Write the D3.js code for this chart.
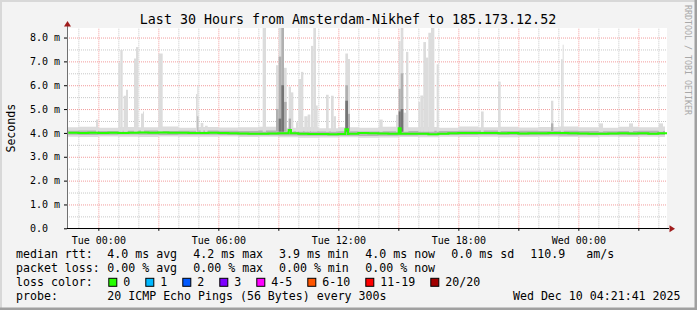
<!DOCTYPE html>
<html>
<head>
<meta charset="utf-8">
<script src="https://cdn.jsdelivr.net/npm/d3@7"></script>
<style>
  body { margin: 0; background: #f3f3f3; }
  svg text { font-family: "DejaVu Sans Mono", monospace; fill: #000; }
</style>
</head>
<body>
<div id="chart"></div>
<script>
// time window of the graph (UTC)
var timeStart = "2025-12-08T22:26:00Z",
    timeEnd   = "2025-12-10T04:26:00Z",
    dataEnd   = "2025-12-10T04:20:00Z";

var yTicks = [0, 1, 2, 3, 4, 5, 6, 7, 8];

// median rtt (ms), every 30 min starting Mon 22:30
var medianStart = "2025-12-08T22:30:00Z";
var medianRtt = [4.01,4.00,4.01,4.00,4.01,4.00,4.01,4.02,4.01,4.02,4.01,4.01,4.00,4.00,4.01,4.00,
                 3.99,3.98,3.97,3.97,3.98,3.99,3.99,3.97,3.95,3.95,3.94,3.95,3.97,4.00,3.99,3.98,
                 3.97,3.97,3.96,3.96,3.94,3.97,3.99,4.00,4.00,4.00,4.00,3.99,4.00,3.98,3.99,3.99,
                 4.00,4.00,3.99,3.98,3.97,3.97,3.98,3.99,3.98,3.99,3.97,3.99,4.00];

// background smoke (ms), hourly starting Mon 22:00
var smokeStart = "2025-12-08T22:00:00Z";
var smokeMin = [3.84,3.83,3.85,3.84,3.83,3.85,3.84,3.84,3.85,3.83,3.84,3.82,3.80,3.81,3.82,3.80,
                3.81,3.83,3.82,3.84,3.83,3.84,3.82,3.83,3.84,3.83,3.82,3.84,3.83,3.84,3.83];
var smokeLow = [3.92,3.91,3.92,3.93,3.92,3.91,3.92,3.92,3.91,3.90,3.90,3.89,3.88,3.88,3.88,3.87,
                3.88,3.89,3.90,3.91,3.91,3.92,3.91,3.90,3.90,3.89,3.90,3.91,3.90,3.91,3.91];
var smokeHigh = [4.09,4.10,4.08,4.09,4.10,4.08,4.09,4.10,4.09,4.08,4.10,4.07,4.08,4.06,4.07,4.06,
                 4.07,4.08,4.09,4.08,4.09,4.10,4.08,4.09,4.08,4.09,4.08,4.07,4.08,4.09,4.08];
var smokeMax = [4.24,4.26,4.22,4.25,4.24,4.27,4.22,4.25,4.23,4.24,4.26,4.22,4.25,4.20,4.24,4.22,
                4.26,4.24,4.25,4.22,4.27,4.24,4.26,4.23,4.25,4.27,4.24,4.22,4.26,4.24,4.27];

// smoke spikes: [from, to, max ping, mid pings, core pings, median]
var spikes = [
  ["2025-12-08T23:53", "2025-12-08T23:59", 4.56],
  ["2025-12-09T01:00", "2025-12-09T01:06", 6.95],
  ["2025-12-09T01:06", "2025-12-09T01:13", 7.48],
  ["2025-12-09T01:16", "2025-12-09T01:23", 5.56],
  ["2025-12-09T01:23", "2025-12-09T01:29", 5.81],
  ["2025-12-09T01:47", "2025-12-09T01:53", 7.12],
  ["2025-12-09T01:53", "2025-12-09T02:00", 7.60],
  ["2025-12-09T02:08", "2025-12-09T02:14", 4.81],
  ["2025-12-09T02:14", "2025-12-09T02:17", 4.90],
  ["2025-12-09T03:00", "2025-12-09T03:13", 7.33],
  ["2025-12-09T04:53", "2025-12-09T04:57", 5.63],
  ["2025-12-09T04:57", "2025-12-09T05:00", 5.98, 4.7],
  ["2025-12-09T05:07", "2025-12-09T05:15", 4.42],
  ["2025-12-09T05:20", "2025-12-09T05:28", 4.30],
  ["2025-12-09T08:13", "2025-12-09T08:23", 9.00],
  ["2025-12-09T08:53", "2025-12-09T09:01", 6.84, 5.0],
  ["2025-12-09T09:01", "2025-12-09T09:09", 9.00, 7.2, 4.6],
  ["2025-12-09T09:09", "2025-12-09T09:17", 9.00, 8.5, 6.0],
  ["2025-12-09T09:17", "2025-12-09T09:25", 6.73, 5.3],
  ["2025-12-09T09:31", "2025-12-09T09:38", 5.94, 4.6, null, 4.12],
  ["2025-12-09T09:38", "2025-12-09T09:45", 5.70],
  ["2025-12-09T09:53", "2025-12-09T09:59", 4.45],
  ["2025-12-09T10:00", "2025-12-09T10:08", 6.26],
  ["2025-12-09T10:08", "2025-12-09T10:15", 6.56],
  ["2025-12-09T10:18", "2025-12-09T10:28", 4.70],
  ["2025-12-09T10:28", "2025-12-09T10:36", 4.77],
  ["2025-12-09T10:38", "2025-12-09T10:45", 7.65],
  ["2025-12-09T10:45", "2025-12-09T10:53", 9.00],
  ["2025-12-09T10:53", "2025-12-09T10:58", 5.15],
  ["2025-12-09T11:23", "2025-12-09T11:31", 5.60],
  ["2025-12-09T11:38", "2025-12-09T11:46", 5.56],
  ["2025-12-09T11:46", "2025-12-09T11:53", 4.70],
  ["2025-12-09T12:21", "2025-12-09T12:29", 7.33, 6.0, 5.35, 4.15],
  ["2025-12-09T12:29", "2025-12-09T12:35", 7.10, 4.8],
  ["2025-12-09T14:03", "2025-12-09T14:13", 4.56],
  ["2025-12-09T14:53", "2025-12-09T15:01", 4.76],
  ["2025-12-09T15:01", "2025-12-09T15:07", 7.85, 5.85, 4.9, 4.2],
  ["2025-12-09T15:07", "2025-12-09T15:15", 9.00, 6.5, 5.0],
  ["2025-12-09T15:15", "2025-12-09T15:23", 4.85],
  ["2025-12-09T15:23", "2025-12-09T15:30", 7.40],
  ["2025-12-09T16:00", "2025-12-09T16:06", 5.30],
  ["2025-12-09T16:06", "2025-12-09T16:15", 5.57],
  ["2025-12-09T16:15", "2025-12-09T16:23", 7.81],
  ["2025-12-09T16:23", "2025-12-09T16:30", 7.16],
  ["2025-12-09T16:30", "2025-12-09T16:38", 8.20],
  ["2025-12-09T16:38", "2025-12-09T16:48", 9.00],
  ["2025-12-09T16:55", "2025-12-09T17:01", 6.88],
  ["2025-12-09T19:08", "2025-12-09T19:16", 4.90],
  ["2025-12-09T19:59", "2025-12-09T20:07", 6.15],
  ["2025-12-09T22:38", "2025-12-09T22:45", 5.35, 4.4],
  ["2025-12-09T23:08", "2025-12-09T23:13", 7.09],
  ["2025-12-09T23:13", "2025-12-09T23:16", 7.70],
  ["2025-12-10T01:02", "2025-12-10T01:14", 4.40],
  ["2025-12-10T02:32", "2025-12-10T02:44", 4.40],
  ["2025-12-10T04:02", "2025-12-10T04:14", 4.40]
];

// legend texts
var statLines = [
  ["median rtt:",  ["4.0 ms avg", "4.2 ms max", "3.9 ms min", "4.0 ms now", "0.0 ms sd", "110.9", "am/s"]],
  ["packet loss:", ["0.00 % avg", "0.00 % max", "0.00 % min", "0.00 % now"]]
];
var lossLabels = ["0", "1", "2", "3", "4-5", "6-10", "11-19", "20/20"];
var lossColors = ["#26ff00", "#00b8ff", "#0059ff", "#7e00ff", "#ff00ff", "#ff5500", "#ff0000", "#a10000"];
var probeText = "20 ICMP Echo Pings (56 Bytes) every 300s";
var stampText = "Wed Dec 10 04:21:41 2025";
var titleText = "Last 30 Hours from Amsterdam-Nikhef to 185.173.12.52";

var W = 697, H = 310;
var plot = { left: 67, right: 667, top: 28, bottom: 228.3 };

var svg = d3.select("#chart").append("svg")
    .attr("width", W).attr("height", H);

// frame
svg.append("rect").attr("width", W).attr("height", H).attr("fill", "#f3f3f3");
svg.append("path").attr("d", "M0,0H697V310H0Z").attr("fill", "none")
    .attr("stroke", "#d8d8d8").attr("stroke-width", 4);
svg.append("path").attr("d", "M697,0V310H0").attr("fill", "none")
    .attr("stroke", "#a0a0a0").attr("stroke-width", 5);

var x = d3.scaleUtc()
    .domain([new Date(timeStart), new Date(timeEnd)])
    .range([plot.left, plot.right]);
var y = d3.scaleLinear()
    .domain([0, 8.4])
    .range([plot.bottom, plot.top]);

svg.append("rect")
    .attr("x", plot.left).attr("y", plot.top)
    .attr("width", plot.right - plot.left).attr("height", plot.bottom - plot.top)
    .attr("fill", "#fff");

// grid
var hours = d3.utcHour.range(x.domain()[0], x.domain()[1]);
var plotH = plot.bottom - plot.top, plotW = plot.right - plot.left;

function gridLines(g, color) {
  g.select(".domain").remove();
  g.selectAll("line").attr("stroke", color).attr("stroke-dasharray", "1,1");
}
svg.append("g").attr("transform", "translate(0," + plot.bottom + ")")
    .call(d3.axisBottom(x).tickValues(hours.filter(function(d) { return d.getUTCHours() % 3; }))
        .tickSize(-plotH).tickFormat(""))
    .call(gridLines, "#c8c8c8");
svg.append("g").attr("transform", "translate(" + plot.left + ",0)")
    .call(d3.axisLeft(y).tickValues(d3.range(0.5, 8.4, 1)).tickSize(-plotW).tickFormat(""))
    .call(gridLines, "#c8c8c8");
svg.append("g").attr("transform", "translate(0," + plot.bottom + ")")
    .call(d3.axisBottom(x).tickValues(hours.filter(function(d) { return d.getUTCHours() % 3 === 0; }))
        .tickSize(-plotH).tickFormat(""))
    .call(gridLines, "#f29c9c");
svg.append("g").attr("transform", "translate(" + plot.left + ",0)")
    .call(d3.axisLeft(y).tickValues(yTicks.slice(1)).tickSize(-plotW).tickFormat(""))
    .call(gridLines, "#f29c9c");

// data tables
var smokeTable = smokeMin.map(function(v, i) {
  return { t: d3.utcHour.offset(new Date(smokeStart), i), lo: v, l2: smokeLow[i], h2: smokeHigh[i], hi: smokeMax[i] };
});
smokeTable.push(Object.assign({}, smokeTable[smokeTable.length - 1], { t: new Date(dataEnd) }));

var medianTable = medianRtt.map(function(v, i) {
  return { t: d3.utcMinute.offset(new Date(medianStart), 30 * i), v: v };
});
function medianAt(t) {
  var i = d3.bisector(function(d) { return d.t; }).right(medianTable, t) - 1;
  return medianTable[Math.max(0, i)].v;
}
var spikeTable = spikes.map(function(s) {
  return { t0: new Date(s[0] + "Z"), t1: new Date(s[1] + "Z"), hi: s[2], mid: s[3], core: s[4], med: s[5] };
});
var medianLine = medianTable.slice();
spikeTable.forEach(function(s) {
  if (s.med != null) {
    medianLine.push({ t: s.t0, v: s.med });
    medianLine.push({ t: s.t1, v: medianAt(s.t1) });
  }
});
medianLine.sort(function(a, b) { return a.t - b.t; });

svg.append("clipPath").attr("id", "plot-clip")
  .append("rect").attr("x", plot.left).attr("y", plot.top).attr("width", plotW).attr("height", plotH);
var layer = svg.append("g").attr("clip-path", "url(#plot-clip)");

// background smoke
layer.append("path").datum(smokeTable)
    .attr("fill", "#dcdcdc")
    .attr("d", d3.area().curve(d3.curveStepAfter)
        .x(function(d) { return x(d.t); }).y0(function(d) { return y(d.lo); }).y1(function(d) { return y(d.hi); }));
layer.append("path").datum(smokeTable)
    .attr("fill", "#b4b4b4")
    .attr("d", d3.area().curve(d3.curveStepAfter)
        .x(function(d) { return x(d.t); }).y0(function(d) { return y(d.l2); }).y1(function(d) { return y(d.h2); }));

// spikes
function spikeRects(key, color) {
  layer.selectAll(".spike-" + key)
    .data(spikeTable.filter(function(d) { return d[key] != null; }))
    .enter().append("rect")
    .attr("class", "spike-" + key)
    .attr("x", function(d) { return x(d.t0); })
    .attr("width", function(d) { return x(d.t1) - x(d.t0); })
    .attr("y", function(d) { return y(d[key]); })
    .attr("height", function(d) { return y(4.05) - y(d[key]); })
    .attr("fill", color);
}
spikeRects("hi", "#dcdcdc");
spikeRects("mid", "#b0b0b0");
spikeRects("core", "#747474");

// median line, coloured by loss (0 loss)
layer.append("path").datum(medianLine)
    .attr("fill", "none")
    .attr("stroke", lossColors[0])
    .attr("stroke-width", 2)
    .attr("d", d3.line().curve(d3.curveStepAfter)
        .x(function(d) { return x(d.t); }).y(function(d) { return y(d.v); }));

// axes
svg.append("line").attr("x1", plot.left + 0.5).attr("x2", plot.left + 0.5)
    .attr("y1", plot.bottom).attr("y2", plot.top - 3).attr("stroke", "#707070");
svg.append("line").attr("x1", plot.left).attr("x2", plot.right + 2)
    .attr("y1", plot.bottom + 0.2).attr("y2", plot.bottom + 0.2).attr("stroke", "#000");
svg.append("path").attr("fill", "#a01c1c")
    .attr("d", "M" + (plot.left + 0.5) + "," + (plot.top - 7) + "l3.5,5.5h-7z");
svg.append("path").attr("fill", "#a01c1c")
    .attr("d", "M" + (plot.right + 8) + "," + (plot.bottom + 0.5) + "l-5.5,-3.5v7z");

var xAxis = svg.append("g").attr("transform", "translate(0," + plot.bottom + ")")
    .call(d3.axisBottom(x).ticks(d3.utcHour.every(6)).tickSize(0).tickPadding(9)
        .tickFormat(d3.utcFormat("%a %H:%M")));
xAxis.select(".domain").remove();
xAxis.selectAll("text").attr("font-size", 10).attr("font-family", null);
svg.append("g").attr("transform", "translate(0," + plot.bottom + ")")
    .call(d3.axisBottom(x).tickValues(hours.filter(function(d) { return d.getUTCHours() % 3 === 0; }))
        .tickSize(2.5).tickFormat(""))
    .call(function(g) { g.select(".domain").remove(); g.selectAll("line").attr("stroke", "#000"); });

var yAxis = svg.append("g").attr("transform", "translate(" + plot.left + ",0)")
    .call(d3.axisLeft(y).tickValues(yTicks).tickSize(3)
        .tickFormat(function(d) { return d === 0 ? "0.0" : d3.format(".1f")(d) + " m"; }));
yAxis.select(".domain").remove();
yAxis.selectAll("line").attr("stroke", "#000");
yAxis.selectAll("text").attr("font-size", 10).attr("font-family", null)
    .attr("text-anchor", "start").attr("x", 30 - plot.left);

// titles
svg.append("text").attr("x", 348).attr("y", 23.5).attr("text-anchor", "middle")
    .attr("font-size", 13.3).text(titleText);
svg.append("text").attr("transform", "translate(14.5," + (plot.top + plotH / 2) + ") rotate(-90)")
    .attr("text-anchor", "middle").attr("font-size", 11.6).text("Seconds");
svg.append("text").attr("transform", "translate(684.5,5) rotate(90)")
    .attr("font-size", 8.3).style("fill", "#a8a8a8").text("RRDTOOL / TOBI OETIKER");

// legend
var legendX = 16, colX = [107.3, 193.3, 279, 365.3, 451.3, 530.3, 586.3];
statLines.forEach(function(line, i) {
  var yy = 258.3 + i * 14;
  svg.append("text").attr("x", legendX).attr("y", yy).attr("font-size", 11.6).text(line[0]);
  line[1].forEach(function(t, j) {
    svg.append("text").attr("x", colX[j]).attr("y", yy).attr("font-size", 11.6).text(t);
  });
});

var lossY = 286.3, boxX = 108.3;
svg.append("text").attr("x", legendX).attr("y", lossY).attr("font-size", 11.6).text("loss color:");
lossLabels.forEach(function(lab, i) {
  svg.append("rect").attr("x", boxX + 0.5).attr("y", lossY - 8).attr("width", 8).attr("height", 8)
      .attr("fill", lossColors[i]).attr("stroke", "#000");
  svg.append("text").attr("x", boxX + 15).attr("y", lossY).attr("font-size", 11.6).text(lab);
  boxX += 30 + 7 * lab.length;
});

svg.append("text").attr("x", legendX).attr("y", 300.3).attr("font-size", 11.6).text("probe:");
svg.append("text").attr("x", colX[0]).attr("y", 300.3).attr("font-size", 11.6).text(probeText);
svg.append("text").attr("x", 680.5).attr("y", 300.3).attr("text-anchor", "end")
    .attr("font-size", 11.6).text(stampText);
</script>
</body>
</html>
